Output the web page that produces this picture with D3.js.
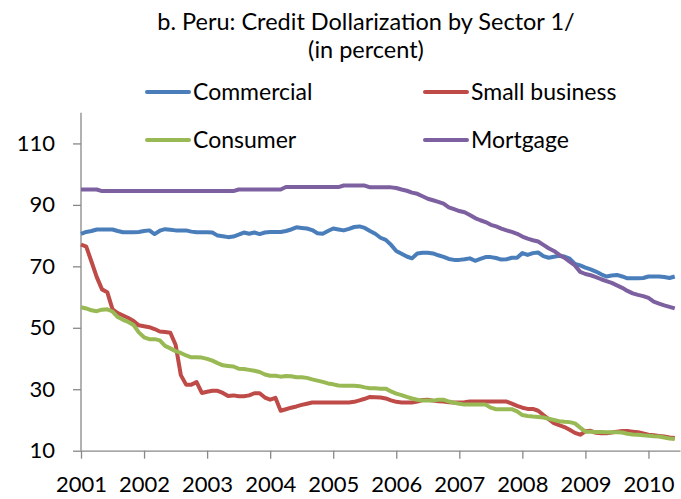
<!DOCTYPE html>
<html>
<head>
<meta charset="utf-8">
<script src="https://cdn.jsdelivr.net/npm/d3@7"></script>
<style>
  body { margin: 0; background: #fff; }
  svg { display: block; font-family: Lato, 'Open Sans', sans-serif; }
</style>
</head>
<body>
<div id="graph"></div>
<script>
// monthly data, Jan 2001 - Jun 2010
const years = ['2001', '2002', '2003', '2004', '2005', '2006', '2007', '2008', '2009', '2010'];
const yTicks = [10, 30, 50, 70, 90, 110];

const commercial = [
  80.6, 81.2, 81.5, 82, 82, 82, 82, 81.5, 81.1, 81.1, 81.1, 81.2,
  81.5, 81.7, 80.5, 81.6, 82.1, 81.9, 81.7, 81.7, 81.7, 81.3, 81.1, 81.1,
  81.1, 81, 80, 79.8, 79.5, 79.7, 80.3, 81, 80.6, 81, 80.5, 81,
  81.2, 81.2, 81.2, 81.5, 82, 82.7, 82.5, 82.3, 81.8, 80.8, 80.6, 81.5,
  82.3, 82, 81.7, 82.2, 82.8, 83, 82.5, 81.5, 80.6, 79.3, 78.6, 77,
  75, 74.1, 73.2, 72.6, 74.2, 74.4, 74.4, 74.2, 73.6, 73.1, 72.4, 72.1,
  72.1, 72.3, 72.6, 71.8, 72.4, 73, 73, 72.7, 72.2, 72.3, 72.8, 72.8,
  74.3, 73.7, 74.3, 74.5, 73.3, 72.8, 73.1, 73.4, 73.2, 72.5, 70.8, 70.3,
  69.6, 69, 68.3, 67.4, 66.7, 67, 67.2, 66.7, 66.1, 66.1, 66.1, 66.2,
  66.7, 66.7, 66.7, 66.5, 66.2, 66.7,
];
const smallBusiness = [
  77.1, 76.4, 71.5, 66.5, 62.5, 61.6, 56, 54.8, 54, 53.2, 52.2, 50.8,
  50.5, 50.2, 49.6, 48.8, 48.6, 48.4, 44.5, 34.6, 31.5, 31.5, 32.3, 28.8,
  29.2, 29.5, 29.5, 28.8, 27.8, 28, 27.7, 27.7, 28, 28.7, 28.7, 27.3,
  26.6, 27.2, 23, 23.5, 24, 24.4, 24.9, 25.3, 25.7, 25.7, 25.7, 25.7,
  25.7, 25.7, 25.7, 25.7, 25.9, 26.4, 26.9, 27.5, 27.4, 27.3, 27, 26.4,
  25.9, 25.7, 25.7, 25.7, 26, 26.5, 26.6, 26.3, 26.1, 26, 25.8, 25.7,
  25.7, 25.8, 26, 26, 26, 26, 26, 26, 26, 26, 25.3, 24.6,
  24, 23.6, 23.6, 23, 21.6, 20.3, 19, 18.3, 17.7, 16.8, 15.8, 15.2,
  16.3, 16.5, 15.8, 15.7, 15.7, 15.9, 16.2, 16.4, 16.4, 16.2, 16, 15.6,
  15.2, 15, 14.8, 14.6, 14.3, 14.1,
];
const consumer = [
  56.7, 56.3, 55.7, 55.4, 55.9, 56, 55.3, 53.5, 52.6, 51.9, 50.9, 48.5,
  46.9, 46.3, 46.3, 45.9, 44.1, 43.3, 42.4, 41.8, 41, 40.4, 40.4, 40.3,
  39.9, 39.3, 38.5, 37.8, 37.6, 37.4, 36.7, 36.6, 36.3, 36, 35.6, 34.8,
  34.4, 34.4, 34.1, 34.3, 34.2, 33.9, 33.9, 33.7, 33.2, 32.8, 32.4, 31.9,
  31.6, 31.2, 31.1, 31.1, 31.1, 31, 30.6, 30.3, 30.3, 30.2, 30.2, 29.3,
  28.6, 28.1, 27.5, 27, 26.6, 26.3, 26.3, 26.3, 26.6, 26.6, 26, 25.6,
  25.3, 25, 25, 25, 25, 25, 24, 23.5, 23.5, 23.5, 23.5, 22.8,
  21.6, 21.3, 21.1, 21, 20.8, 20.4, 20, 19.6, 19.4, 19.3, 18.9, 17.5,
  16.2, 16.2, 16.1, 16.1, 16, 16, 16, 15.9, 15.5, 15.3, 15.2, 15,
  14.9, 14.7, 14.6, 14.3, 14, 13.8,
];
const mortgage = [
  95, 95, 95, 95, 94.5, 94.5, 94.5, 94.5, 94.5, 94.5, 94.5, 94.5,
  94.5, 94.5, 94.5, 94.5, 94.5, 94.5, 94.5, 94.5, 94.5, 94.5, 94.5, 94.5,
  94.5, 94.5, 94.5, 94.5, 94.5, 94.5, 95, 95, 95, 95, 95, 95,
  95, 95, 95, 95.8, 95.8, 95.8, 95.8, 95.8, 95.8, 95.8, 95.8, 95.8,
  95.8, 95.8, 96.3, 96.3, 96.3, 96.3, 96.3, 95.7, 95.7, 95.7, 95.7, 95.7,
  95.5, 95, 94.6, 94, 93.6, 92.8, 92, 91.5, 91, 90.4, 89.2, 88.6,
  88, 87.6, 86.7, 85.7, 85, 84.4, 83.5, 83, 82.3, 81.7, 81.2, 80.6,
  79.7, 79, 78.5, 78.1, 77, 75.9, 75, 73.8, 72.8, 71.5, 70.3, 68.2,
  67.5, 67.1, 66.5, 65.8, 65.2, 64.6, 63.8, 63, 62, 61.2, 60.7, 60.3,
  59.7, 58.5, 57.9, 57.3, 56.8, 56.3,
];

const series = [
  { name: 'Commercial', values: commercial, color: '#4a7ebb' },
  { name: 'Small business', values: smallBusiness, color: '#be4b48' },
  { name: 'Consumer', values: consumer, color: '#98b954' },
  { name: 'Mortgage', values: mortgage, color: '#7d60a0' },
];

const width = 681;
const height = 499;
const margin = { left: 81, right: 1, top: 112.7, bottom: 48.3 };

const svg = d3.select('#graph')
  .append('svg')
  .attr('width', width)
  .attr('height', height);

svg.append('rect').attr('width', width).attr('height', height).attr('fill', '#fff');

const x = d3.scaleLinear()
  .domain([0, 114])
  .range([margin.left, width - margin.right]);
const y = d3.scaleLinear()
  .domain([10, 120])
  .range([height - margin.bottom, margin.top]);

// title
svg.append('text')
  .attr('x', 366)
  .attr('y', 30)
  .attr('text-anchor', 'middle')
  .attr('font-size', 23.5)
  .attr('fill', '#000')
  .text('b. Peru: Credit Dollarization by Sector 1/');
svg.append('text')
  .attr('x', 366)
  .attr('y', 58)
  .attr('text-anchor', 'middle')
  .attr('font-size', 23.5)
  .attr('fill', '#000')
  .text('(in percent)');

// legend
const legendPos = [
  { lx: 147, ly: 92 },
  { lx: 425, ly: 92 },
  { lx: 147, ly: 140 },
  { lx: 425, ly: 140 },
];
series.forEach((s, i) => {
  const { lx, ly } = legendPos[i];
  svg.append('line')
    .attr('x1', lx).attr('x2', lx + 42)
    .attr('y1', ly).attr('y2', ly)
    .attr('stroke', s.color)
    .attr('stroke-width', 4)
    .attr('stroke-linecap', 'round');
  svg.append('text')
    .attr('x', lx + 46)
    .attr('y', ly)
    .attr('dy', '0.35em')
    .attr('font-size', 23)
    .text(s.name);
});

// axes
const yAxis = svg.append('g')
  .attr('transform', `translate(${margin.left},0)`)
  .call(d3.axisLeft(y).tickValues(yTicks).tickSize(8).tickPadding(18).tickSizeOuter(0));
const xAxis = svg.append('g')
  .attr('transform', `translate(0,${y(10)})`)
  .call(d3.axisBottom(x).tickValues(years.map((d, i) => i * 12))
    .tickFormat((d, i) => years[i]).tickSize(8).tickPadding(18).tickSizeOuter(0));
[yAxis, xAxis].forEach((g) => {
  g.selectAll('.domain').attr('stroke', '#888').attr('stroke-width', 1.3);
  g.selectAll('.tick line').attr('stroke', '#888').attr('stroke-width', 1.3);
  g.selectAll('.tick text').attr('font-size', 22).attr('fill', '#000')
    .attr('font-family', 'Lato, sans-serif');
});
yAxis.select('.domain').attr('d', `M0,${y(10)}V${margin.top}`);

// lines
const line = d3.line()
  .x((d, i) => x(i))
  .y((d) => y(d));
series.forEach((s) => {
  svg.append('path')
    .datum(s.values)
    .attr('fill', 'none')
    .attr('stroke', s.color)
    .attr('stroke-width', 4)
    .attr('stroke-linejoin', 'round')
    .attr('d', line);
});
</script>
</body>
</html>
